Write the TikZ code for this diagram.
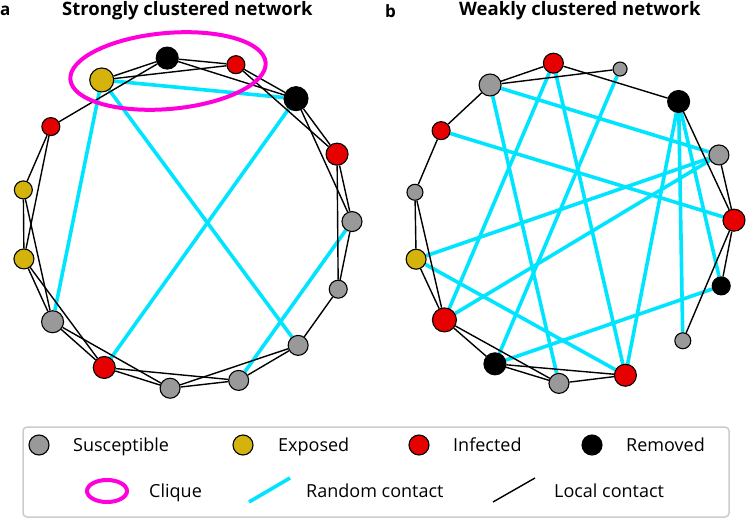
\documentclass[tikz,border=0pt]{standalone}
\usepackage{fontspec}
\setmainfont{Open Sans}
\usetikzlibrary{shapes.geometric}
\definecolor{sus}{HTML}{999999}
\definecolor{expo}{HTML}{D4B40C}
\definecolor{infe}{HTML}{E60000}
\definecolor{remv}{HTML}{000000}
\definecolor{rcyan}{HTML}{00E5FF}
\definecolor{clq}{HTML}{FF00DD}
\definecolor{boxgray}{HTML}{CCCCCC}
\pgfdeclarelayer{bg}
\pgfsetlayers{bg,main}
\begin{document}
\begin{tikzpicture}[x=1pt,y=-1pt,
  nd/.style={circle,draw=black,line width=1.1pt,inner sep=0pt},
  loc/.style={draw=black,line width=1.4pt},
  rnd/.style={draw=rcyan,line width=3.6pt},
  cliquestyle/.style={ellipse,draw=clq,line width=4pt,inner sep=0pt},
  lab/.style={anchor=base west,inner sep=0pt,font=\fontsize{18}{20}\selectfont},
  ttl/.style={anchor=base west,inner sep=0pt,font=\bfseries\fontsize{18.5}{20}\selectfont},
  panel/.style={anchor=base west,inner sep=0pt,font=\bfseries\fontsize{17}{20}\selectfont}]
\useasboundingbox (0,0) rectangle (749,519);

% titles
\node[panel] (pa) at (0,16) {a};
\node[ttl] (ta) at (62,16) {Strongly clustered network};
\node[panel] (pb) at (385,18) {b};
\node[ttl] (tb) at (459,16) {Weakly clustered network};

% ---------- network a ----------
\foreach \i/\c/\d in {0/remv/22,1/infe/18,2/remv/24,3/infe/22,4/sus/20,5/sus/18,6/sus/20,7/sus/20,8/sus/20,9/infe/22,10/sus/22,11/expo/20,12/expo/18,13/infe/18,14/expo/24}
  \node[nd,fill=\c,minimum size=\d pt] (a\i) at ({186+166*sin(-6.5+24*\i)},{223-166*cos(-6.5+24*\i)}) {};

\begin{pgfonlayer}{bg}
\foreach \u/\v in {14/2,14/10,14/6,2/9,4/7}
  \draw[rnd] (a\u) -- (a\v);
\foreach \u/\v in {14/0,14/1,0/1,0/2,1/2,1/3,0/13,2/3,2/4,3/4,3/5,4/5,5/6,6/7,6/8,7/8,9/7,9/8,10/8,10/9,11/9,11/10,12/10,12/11,13/12,13/11}
  \draw[loc] (a\u) -- (a\v);
\end{pgfonlayer}

\node[cliquestyle,minimum width=196pt,minimum height=76pt,rotate=5] (clique) at (168,71) {};

% ---------- network b ----------
\foreach \i/\c/\d in {0/infe/20,1/sus/14,2/remv/22,3/sus/20,4/infe/22,5/remv/18,6/sus/16,7/infe/22,8/sus/20,9/remv/22,10/infe/24,11/expo/20,12/sus/16,13/infe/18,14/sus/22}
  \node[nd,fill=\c,minimum size=\d pt] (b\i) at ({573+161*sin(-7+24*\i)},{223-161*cos(-7+24*\i)}) {};

\begin{pgfonlayer}{bg}
\foreach \u/\v in {14/3,14/8,0/10,0/7,1/9,13/4,2/7,2/6,2/5,3/11,3/10,11/7,9/5}
  \draw[rnd] (b\u) -- (b\v);
\foreach \u/\v in {0/14,1/14,0/2,14/13,13/12,2/4,3/4,12/11,12/10,11/10,10/9,10/8,9/8,9/7,7/8,4/5,4/6}
  \draw[loc] (b\u) -- (b\v);
\end{pgfonlayer}

% ---------- legend ----------
\draw[draw=boxgray,line width=1.5pt,rounded corners=4pt] (23,427) rectangle (729,517);
\node[nd,fill=sus,minimum size=20pt] (ls) at (39,445) {};
\node[lab] (lst) at (73,451) {Susceptible};
\node[nd,fill=expo,minimum size=20pt] (le) at (243,445) {};
\node[lab] (let) at (278,451) {Exposed};
\node[nd,fill=infe,minimum size=20pt] (li) at (419,445) {};
\node[lab] (lit) at (453,451) {Infected};
\node[nd,fill=remv,minimum size=20pt] (lr) at (592,445) {};
\node[lab] (lrt) at (626,451) {Removed};

\node[cliquestyle,minimum width=40pt,minimum height=22pt] (lc) at (107,491) {};
\node[lab] (lct) at (149,497) {Clique};
\coordinate (r1) at (249,502);
\coordinate (r2) at (290,478);
\draw[rnd] (r1) -- (r2);
\node[lab] (lrc) at (306,497) {Random contact};
\coordinate (k1) at (493,502);
\coordinate (k2) at (535,478);
\draw[loc] (k1) -- (k2);
\node[lab] (lkc) at (554,497) {Local contact};
\end{tikzpicture}
\end{document}
